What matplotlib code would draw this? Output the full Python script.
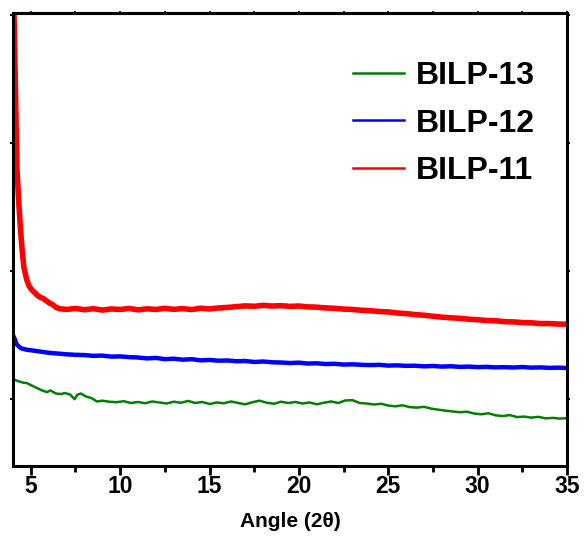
"""PXRD patterns of BILP-11/12/13 (offset, arbitrary intensity)."""
import matplotlib

matplotlib.use("Agg")
import matplotlib.pyplot as plt  # noqa: E402
from matplotlib.ticker import MultipleLocator  # noqa: E402

# --- data (2theta in degrees, intensity in a.u.) ---
red_x = [4.02, 4.06, 4.15, 4.22, 4.33, 4.44, 4.52, 4.61, 4.70, 4.78, 4.90,
         5.06, 5.20, 5.35, 5.50, 5.70, 5.90, 6.05, 6.22, 6.40, 6.60, 7.0,
         7.5, 8.0, 8.5, 9.0, 9.5, 10.0, 10.5, 11.0, 11.5, 12.0, 12.5, 13.0,
         13.5, 14.0, 14.5, 15.0, 15.5, 16.0, 16.5, 17.0, 17.5, 18.0, 18.5,
         19.0, 19.5, 20.0, 20.5, 21.0, 21.5, 22.0, 22.5, 23.0, 23.5, 24.0,
         24.5, 25.0, 25.5, 26.0, 26.5, 27.0, 27.5, 28.0, 28.5, 29.0, 29.5,
         30.0, 30.5, 31.0, 31.5, 32.0, 32.5, 33.0, 33.5, 34.0, 34.5, 35.0]
red_y = [3200, 3016, 2350, 1813, 1530, 1297, 1160, 1031, 975, 930, 885,
         852, 835, 812, 797, 785, 765, 750, 738, 718, 706, 700,
         708, 698, 706, 695, 704, 700, 708, 697, 705, 700, 709, 701,
         707, 699, 710, 704, 712, 716, 722, 728, 725, 732, 727,
         730, 724, 727, 720, 718, 712, 709, 703, 700, 694, 690,
         684, 681, 672, 668, 660, 655, 647, 640, 635, 631, 624,
         620, 614, 612, 605, 603, 598, 596, 590, 590, 586, 585]

blue_x = [4.0, 4.1, 4.2, 4.35, 4.5, 4.8, 5.2, 5.6, 6.0, 6.5, 7.0, 7.5,
          8.0, 8.5, 9.0, 9.5, 10.0, 10.5, 11.0, 11.5, 12.0, 12.5, 13.0,
          13.5, 14.0, 14.5, 15.0, 15.5, 16.0, 16.5, 17.0, 17.5, 18.0,
          18.5, 19.0, 19.5, 20.0, 20.5, 21.0, 21.5, 22.0, 22.5, 23.0,
          23.5, 24.0, 24.5, 25.0, 25.5, 26.0, 26.5, 27.0, 27.5, 28.0,
          28.5, 29.0, 29.5, 30.0, 30.5, 31.0, 31.5, 32.0, 32.5, 33.0,
          33.5, 34.0, 34.5, 35.0]
blue_y = [500, 470, 430, 408, 395, 385, 378, 370, 362, 356, 350, 346,
          344, 338, 340, 332, 334, 328, 325, 318, 322, 312, 316, 308,
          312, 303, 306, 300, 302, 296, 298, 290, 294, 288, 286, 282,
          285, 278, 280, 274, 276, 270, 272, 268, 266, 268, 262, 264,
          260, 261, 256, 259, 254, 257, 252, 254, 250, 252, 248, 250,
          247, 251, 246, 248, 244, 246, 243]

green_x = [4.0, 4.3, 4.6, 4.8, 5.0, 5.3, 5.6, 5.9, 6.1, 6.4, 6.7, 6.9,
           7.2, 7.45, 7.6, 7.8, 8.1, 8.4, 8.7, 9.0, 9.4, 9.8, 10.2, 10.6,
           11.0, 11.4, 11.8, 12.2, 12.6, 13.0, 13.4, 13.8, 14.2, 14.6,
           15.0, 15.4, 15.8, 16.2, 16.6, 17.0, 17.4, 17.8, 18.2, 18.6,
           19.0, 19.4, 19.8, 20.2, 20.6, 21.0, 21.4, 21.8, 22.2, 22.6,
           23.0, 23.4, 23.8, 24.2, 24.6, 25.0, 25.4, 25.8, 26.2, 26.6,
           27.0, 27.4, 27.8, 28.2, 28.6, 29.0, 29.4, 29.8, 30.2, 30.6,
           31.0, 31.4, 31.8, 32.2, 32.6, 33.0, 33.4, 33.8, 34.2, 34.6, 35.0]
green_y = [156, 140, 128, 125, 110, 90, 70, 55, 68, 44, 40, 48,
           36, 0, 34, 44, 20, 8, -18, -12, -20, -24, -16, -30,
           -22, -32, -18, -26, -34, -20, -28, -14, -30, -22,
           -38, -26, -32, -18, -30, -40, -24, -12, -28, -36,
           -20, -30, -22, -34, -26, -40, -28, -18, -30, -10,
           -8, -30, -34, -42, -36, -50, -56, -48, -62, -66,
           -60, -74, -82, -90, -96, -102, -98, -112, -118, -110,
           -126, -132, -124, -140, -136, -144, -138, -150, -146, -152, -148]

series_labels = ["BILP-13", "BILP-12", "BILP-11"]
x_major = [5, 10, 15, 20, 25, 30, 35]

fig = plt.figure(figsize=(5.87, 5.36), dpi=100)
ax = fig.add_axes([0.022, 0.131, 0.944, 0.845])

ax.plot(green_x, green_y, color="#008000", linewidth=1.8, label=series_labels[0])
ax.plot(blue_x, blue_y, color="#0000ff", linewidth=3.2, label=series_labels[1])
ax.plot(red_x, red_y, color="#ff0000", linewidth=4.0, label=series_labels[2])

ax.set_xlim(4, 35)
ax.set_ylim(-520, 3015)
ax.set_xticks(x_major)
ax.xaxis.set_minor_locator(MultipleLocator(2.5))
ax.set_yticks([0, 1000, 2000, 3000])
ax.set_yticklabels([])

for side in ax.spines.values():
    side.set_linewidth(2.2)

ax.tick_params(axis="x", which="major", direction="out", length=6.5, width=2,
               labelsize=16.5, pad=0)
ax.tick_params(axis="x", which="minor", direction="out", length=4, width=2)
ax.tick_params(axis="y", direction="out", length=2, width=1.5, right=True)
for lbl in ax.get_xticklabels():
    lbl.set_fontfamily("Liberation Sans")
    lbl.set_fontweight("bold")

# tiny ticks along the top spine
top = ax.secondary_xaxis("top")
top.set_xticks(x_major)
top.xaxis.set_minor_locator(MultipleLocator(2.5))
top.tick_params(which="both", direction="out", length=1.5, width=1.2,
                labeltop=False)
top.spines["top"].set_linewidth(2.2)

ax.set_xlabel("Angle (2θ)", fontsize=15, fontweight="bold",
              fontfamily="Liberation Sans", labelpad=10)

leg = ax.legend(loc="upper right", bbox_to_anchor=(0.993, 0.957), frameon=False,
                prop={"family": "Liberation Sans", "weight": "bold", "size": 23},
                handlelength=1.6, handletextpad=0.35, labelspacing=0.55)
for line in leg.get_lines():
    line.set_linewidth(1.8)

fig.savefig("out.png", dpi=100)
